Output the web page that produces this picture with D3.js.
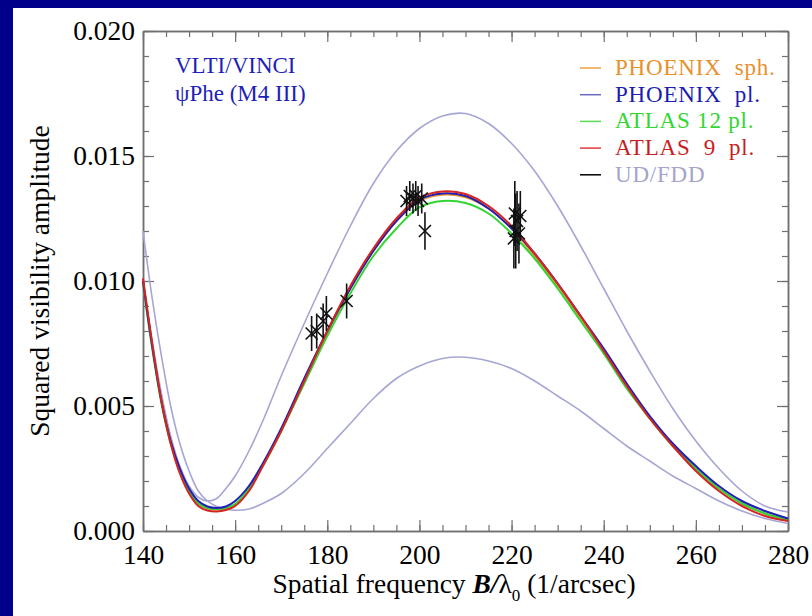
<!DOCTYPE html>
<html><head><meta charset="utf-8">
<script src="https://cdn.jsdelivr.net/npm/d3@7"></script>
<style>
body{margin:0;background:#fff}
text{font-family:"Liberation Serif","Times New Roman",serif}
</style></head>
<body><svg id="c" width="812" height="616"></svg>
<script>
// ---- data ----
const freq = [140,142,144,146,148,150,152,154,156,158,160,163,166,170,175,180,185,190,195,200,205,210,215,220,225,230,235,240,245,250,255,260,265,270,275,280];
const phoenixSph = [0.0100,0.0074,0.0052,0.0036,0.0024,0.0016,0.0011,0.0009,0.00085,0.0009,0.00105,0.0017,0.0026,0.0040,0.0060,0.0079,0.0097,0.0112,0.0124,0.0132,0.01345,0.01335,0.0129,0.0121,0.0110,0.0098,0.0085,0.0072,0.0058,0.0045,0.0034,0.0025,0.0017,0.0011,0.0007,0.00045];
const phoenixPl = [0.0100,0.0074,0.0052,0.0036,0.0025,0.0017,0.0012,0.00098,0.00092,0.00098,0.0012,0.0018,0.0027,0.0041,0.0061,0.0080,0.0097,0.0112,0.0124,0.01325,0.01350,0.01340,0.0129,0.0121,0.0111,0.0099,0.0086,0.0073,0.0059,0.0046,0.0035,0.0026,0.0018,0.0012,0.0008,0.0005];
const atlas12 = [0.0099,0.0073,0.0051,0.0035,0.0024,0.0016,0.0011,0.00092,0.00088,0.00092,0.00108,0.0017,0.0026,0.0040,0.0059,0.0078,0.0095,0.0110,0.0121,0.01295,0.01320,0.01312,0.0127,0.0119,0.0109,0.0097,0.0084,0.0071,0.0057,0.0045,0.0034,0.0025,0.0017,0.0011,0.0007,0.00045];
const atlas9 = [0.0101,0.0075,0.0052,0.0035,0.0023,0.0015,0.0010,0.00082,0.00078,0.00084,0.0010,0.0016,0.0026,0.0040,0.0060,0.0080,0.0098,0.0113,0.0125,0.01333,0.01358,0.01348,0.0130,0.0122,0.0111,0.0099,0.0086,0.0072,0.0058,0.0045,0.0034,0.0024,0.0016,0.0010,0.0006,0.0004];
const udDisk = [0.0100,0.0076,0.0055,0.0038,0.0026,0.0018,0.00135,0.0012,0.0013,0.0017,0.0022,0.0032,0.0044,0.0062,0.0083,0.0103,0.0122,0.0139,0.0152,0.0161,0.0166,0.0167,0.0163,0.0155,0.0144,0.0130,0.0114,0.0097,0.0080,0.0064,0.0049,0.0036,0.0025,0.0016,0.0010,0.00076];
const fddDisk = [0.0120,0.0093,0.0070,0.0050,0.0035,0.0024,0.0016,0.0012,0.00098,0.00088,0.00083,0.00088,0.0011,0.0015,0.0023,0.0033,0.0043,0.0053,0.0061,0.0066,0.0069,0.00695,0.0068,0.0065,0.0060,0.0054,0.0048,0.0041,0.0034,0.0028,0.0022,0.0017,0.0012,0.0008,0.0005,0.0003];

const obsFreq = [176.6,177.7,179.1,179.8,184.2, 197.2,197.9,198.6,199.2,199.7,200.5,201.2, 220.5,220.7,220.9,221.2,221.6,221.9];
const obsV2   = [0.0079,0.0080,0.0084,0.0087,0.0092, 0.0132,0.0134,0.0133,0.0134,0.0132,0.0133,0.0120, 0.0117,0.0127,0.0120,0.0124,0.0119,0.0126];
const obsErr  = [0.0007,0.0007,0.0007,0.0007,0.0007, 0.0006,0.0006,0.0006,0.0006,0.0006,0.0006,0.00075, 0.0012,0.0013,0.0015,0.0012,0.0012,0.0010];

const xTicks = [140,160,180,200,220,240,260,280];
const yTicks = [0,0.005,0.010,0.015,0.020];
const yTickLabels = ["0.000","0.005","0.010","0.015","0.020"];

const legendLabels = ["PHOENIX\u00a0 sph.","PHOENIX\u00a0 pl.","ATLAS 12 pl.","ATLAS\u00a0 9\u00a0 pl.","UD/FDD"];
const legendTextColors = ["#e8902c","#1c1cb0","#33d633","#c81e1e","#a4a4cc"];
const legendLineColors = ["#eea040","#6a6ac0","#55dd55","#e03a3a","#000000"];

// ---- drawing ----
const svg = d3.select("#c");
svg.append("rect").attr("width",812).attr("height",616).attr("fill","#00008a");
svg.append("rect").attr("x",13).attr("y",8).attr("width",799).attr("height",608).attr("fill","#fff");

const x = d3.scaleLinear().domain([140,280]).range([143,788]);
const y = d3.scaleLinear().domain([0,0.020]).range([531,31]);
const frameColor = "#707070";

function styleAxis(g){
  g.selectAll("path.domain").attr("stroke",frameColor).attr("stroke-width",1.5);
  g.selectAll(".tick line").attr("stroke",frameColor).attr("stroke-width",1.2);
}
const minorX = d3.range(140,281,5);
const minorY = d3.range(0,0.02001,0.001);

[[d3.axisBottom(x),531],[d3.axisTop(x),31]].forEach(([ax,py])=>{
  const g = svg.append("g").attr("transform",`translate(0,${py})`)
    .call(ax.tickValues(minorX).tickSizeInner(-6).tickSizeOuter(0).tickFormat(""));
  styleAxis(g);
});
[[d3.axisLeft(y),143],[d3.axisRight(y),788]].forEach(([ax,px])=>{
  const g = svg.append("g").attr("transform",`translate(${px},0)`)
    .call(ax.tickValues(minorY).tickSizeInner(-6).tickSizeOuter(0).tickFormat(""));
  styleAxis(g);
});
const gxb = svg.append("g").attr("transform","translate(0,531)")
  .call(d3.axisBottom(x).tickValues(xTicks).tickSizeInner(-11).tickSizeOuter(0).tickPadding(13).tickFormat(d3.format("d")));
styleAxis(gxb);
gxb.selectAll("text").attr("font-size",27.5).attr("fill","#000").attr("font-family","Liberation Serif");
const gxt = svg.append("g").attr("transform","translate(0,31)")
  .call(d3.axisTop(x).tickValues(xTicks).tickSizeInner(-11).tickSizeOuter(0).tickFormat(""));
styleAxis(gxt);
const gyl = svg.append("g").attr("transform","translate(143,0)")
  .call(d3.axisLeft(y).tickValues(yTicks).tickSizeInner(-11).tickSizeOuter(0).tickPadding(8).tickFormat((d,i)=>yTickLabels[i]));
styleAxis(gyl);
gyl.selectAll("text").attr("font-size",27.5).attr("fill","#000").attr("font-family","Liberation Serif");
const gyr = svg.append("g").attr("transform","translate(788,0)")
  .call(d3.axisRight(y).tickValues(yTicks).tickSizeInner(-11).tickSizeOuter(0).tickFormat(""));
styleAxis(gyr);

// curves
const line = d3.line().x((d,i)=>x(freq[i])).y(d=>y(d)).curve(d3.curveCatmullRom.alpha(0.5));
const curves = [
  [udDisk,"#a6a6d4",1.6],
  [fddDisk,"#a6a6d4",1.6],
  [phoenixSph,"#eb9a34",2],
  [atlas12,"#35d435",2],
  [phoenixPl,"#2020b4",2],
  [atlas9,"#d42424",2]
];
curves.forEach(([vals,col,w])=>{
  svg.append("path").datum(vals).attr("d",line).attr("fill","none")
    .attr("stroke",col).attr("stroke-width",w);
});

// observations
const obs = svg.append("g").attr("stroke","#111").attr("stroke-width",1.6);
obsFreq.forEach((f,i)=>{
  const px = x(f), py = y(obsV2[i]);
  obs.append("line").attr("x1",px).attr("x2",px).attr("y1",y(obsV2[i]+obsErr[i])).attr("y2",y(obsV2[i]-obsErr[i]));
  const s = 6;
  obs.append("line").attr("x1",px-s).attr("x2",px+s).attr("y1",py-s).attr("y2",py+s);
  obs.append("line").attr("x1",px-s).attr("x2",px+s).attr("y1",py+s).attr("y2",py-s);
});

// axis titles
svg.append("text").attr("transform","translate(49,281) rotate(-90)")
  .attr("text-anchor","middle").attr("font-size",27.5).attr("fill","#000")
  .text("Squared visibility amplitude");
const xt = svg.append("text").attr("x",454).attr("y",593).attr("text-anchor","middle")
  .attr("font-size",27.5).attr("fill","#000");
xt.append("tspan").text("Spatial frequency ");
xt.append("tspan").attr("font-weight","bold").attr("font-style","italic").text("B/");
xt.append("tspan").text("λ");
xt.append("tspan").attr("font-size",17).attr("dy",8).text("0");
xt.append("tspan").attr("dy",-8).text(" (1/arcsec)");

// star label
svg.append("text").attr("x",175).attr("y",73).attr("font-size",23).attr("fill","#1e1eb8").text("VLTI/VINCI");
svg.append("text").attr("x",175).attr("y",101).attr("font-size",23).attr("fill","#1e1eb8").text("ψPhe (M4 III)");

// legend
legendLabels.forEach((lab,i)=>{
  const by = 75 + i*26.7;
  svg.append("line").attr("x1",580).attr("x2",601).attr("y1",by-7).attr("y2",by-7)
    .attr("stroke",legendLineColors[i]).attr("stroke-width",1.5);
  svg.append("text").attr("x",615).attr("y",by).attr("font-size",23)
    .attr("letter-spacing",0.8).attr("fill",legendTextColors[i]).text(lab);
});
</script></body></html>
